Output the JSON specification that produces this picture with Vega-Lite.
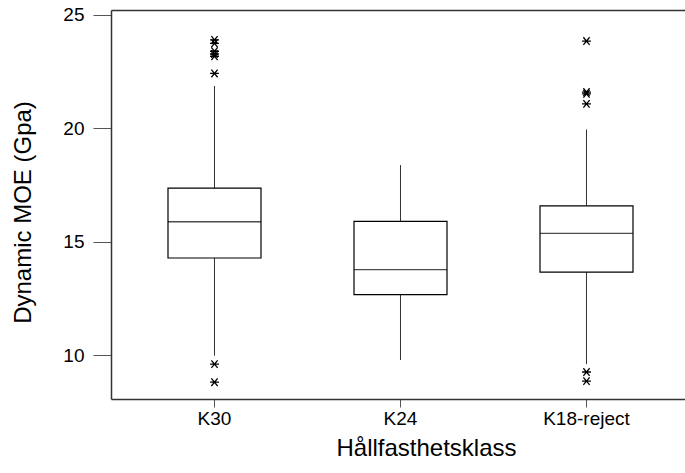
{
  "$schema": "https://vega.github.io/schema/vega-lite/v6.json",
  "autosize": "none",
  "padding": {"left": 111, "top": 10, "right": 0, "bottom": 64},
  "width": 574,
  "height": 389,
  "background": "white",
  "config": {
    "view": {"stroke": null},
    "font": "Liberation Sans",
    "axis": {"labelFont": "Liberation Sans", "titleFont": "Liberation Sans", "labelColor": "black", "titleColor": "black", "titleFontWeight": "normal", "domainColor": "#333", "tickColor": "#555", "grid": false}
  },
  "datasets": {
    "boxes": [
      {"klass": "K30", "lower": 9.97, "q1": 14.28, "median": 15.88, "q3": 17.36, "upper": 21.87},
      {"klass": "K24", "lower": 9.78, "q1": 12.66, "median": 13.77, "q3": 15.9, "upper": 18.38},
      {"klass": "K18-reject", "lower": 9.6, "q1": 13.66, "median": 15.37, "q3": 16.58, "upper": 19.95}
    ],
    "outliers": [
      {"klass": "K30", "value": 23.9},
      {"klass": "K30", "value": 23.75},
      {"klass": "K30", "value": 23.4},
      {"klass": "K30", "value": 23.28},
      {"klass": "K30", "value": 23.18},
      {"klass": "K30", "value": 22.42},
      {"klass": "K30", "value": 9.6},
      {"klass": "K30", "value": 8.8},
      {"klass": "K18-reject", "value": 23.85},
      {"klass": "K18-reject", "value": 21.6},
      {"klass": "K18-reject", "value": 21.52},
      {"klass": "K18-reject", "value": 21.08},
      {"klass": "K18-reject", "value": 9.25},
      {"klass": "K18-reject", "value": 8.85}
    ]
  },
  "layer": [
    {
      "data": {"name": "boxes"},
      "mark": {"type": "rule", "color": "#333", "strokeWidth": 1},
      "encoding": {
        "x": {"field": "klass", "type": "nominal", "sort": ["K30", "K24", "K18-reject"],
          "scale": {"paddingInner": 0, "paddingOuter": 0.043, "align": 0.656},
          "title": "Hållfasthetsklass",
          "axis": {"orient": "bottom", "labelAngle": 0, "labelFontSize": 19, "titleFontSize": 24, "tickSize": 8, "labelPadding": 2, "titlePadding": 8, "titleX": 315, "titleAlign": "center", "domainWidth": 1.5, "tickWidth": 1}},
        "y": {"field": "lower", "type": "quantitative",
          "scale": {"domain": [8.06, 25.22], "nice": false, "zero": false},
          "title": "Dynamic MOE (Gpa)",
          "axis": {"values": [10, 15, 20, 25], "labelFontSize": 19, "titleFontSize": 24, "tickSize": 18, "labelPadding": 9, "titlePadding": 27, "titleY": 202, "titleAlign": "center", "domainWidth": 1.5, "tickWidth": 1}},
        "y2": {"field": "q1"}
      }
    },
    {
      "data": {"name": "boxes"},
      "mark": {"type": "rule", "color": "#333", "strokeWidth": 1},
      "encoding": {
        "x": {"field": "klass", "type": "nominal", "sort": ["K30", "K24", "K18-reject"], "axis": null},
        "y": {"field": "q3", "type": "quantitative"},
        "y2": {"field": "upper"}
      }
    },
    {
      "data": {"name": "boxes"},
      "mark": {"type": "bar", "fill": "white", "stroke": "black", "strokeWidth": 1.2, "width": 93},
      "encoding": {
        "x": {"field": "klass", "type": "nominal", "sort": ["K30", "K24", "K18-reject"], "axis": null},
        "y": {"field": "q1", "type": "quantitative"},
        "y2": {"field": "q3"}
      }
    },
    {
      "data": {"name": "boxes"},
      "mark": {"type": "tick", "color": "black", "size": 93, "thickness": 1.3},
      "encoding": {
        "x": {"field": "klass", "type": "nominal", "sort": ["K30", "K24", "K18-reject"],
          "axis": {"orient": "top", "labels": false, "ticks": false, "title": null, "domainWidth": 1.5}},
        "y": {"field": "median", "type": "quantitative"}
      }
    },
    {
      "data": {"name": "outliers"},
      "mark": {"type": "point", "shape": "M-1,0L1,0M-0.7,-0.85L0.7,0.85M-0.7,0.85L0.7,-0.85", "stroke": "black", "strokeWidth": 1.3, "size": 80, "opacity": 1},
      "encoding": {
        "x": {"field": "klass", "type": "nominal", "sort": ["K30", "K24", "K18-reject"], "axis": null},
        "y": {"field": "value", "type": "quantitative"}
      }
    }
  ],
  "resolve": {"axis": {"x": "independent"}}
}
